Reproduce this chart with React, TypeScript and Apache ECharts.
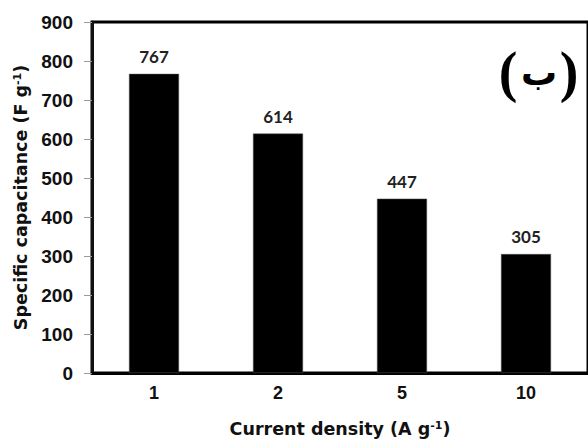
import React, { useEffect, useRef } from "react";
import * as echarts from "echarts";

const categories = ["1", "2", "5", "10"];
const capacitance = [767, 614, 447, 305];
const yTicks = { min: 0, max: 900, interval: 100 };
const panelOpen = "(";
const panelLetter = "ب";
const panelClose = ")";

const titleRich = {
  a: { fontFamily: "DejaVu Sans", fontSize: 17.5, color: "#111", fontWeight: "bold" },
  s: { fontFamily: "DejaVu Sans", fontSize: 11, color: "#111", fontWeight: "bold", verticalAlign: "top" },
};

export default function App() {
  const ref = useRef<HTMLDivElement>(null);
  useEffect(() => {
    document.body.style.margin = "0";
    if (!ref.current) return;
    const chart = echarts.init(ref.current, null, { renderer: "svg" });
    chart.setOption({
      animation: false,
      backgroundColor: "#ffffff",
      grid: {
        left: 92,
        top: 22,
        width: 504,
        height: 357,
        show: true,
        borderColor: "#000",
        borderWidth: 3,
        backgroundColor: "transparent",
      },
      xAxis: {
        type: "category",
        data: categories,
        boundaryGap: true,
        axisLine: { show: true, lineStyle: { color: "#000", width: 3 } },
        axisTick: { show: false },
        axisLabel: {
          color: "#111",
          fontFamily: "Liberation Sans, Arial",
          fontWeight: "bold",
          fontSize: 18,
          margin: 11,
        },
        name: "{a|Current density (A g}{s|-1}{a|)}",
        nameLocation: "middle",
        nameGap: 47,
        nameTextStyle: { rich: titleRich },
      },
      yAxis: {
        type: "value",
        min: yTicks.min,
        max: yTicks.max,
        interval: yTicks.interval,
        splitLine: { show: false },
        axisLine: { show: true, lineStyle: { color: "#111", width: 3 } },
        axisTick: { show: true, length: 8, lineStyle: { color: "#9a9a9a", width: 1 } },
        axisLabel: {
          color: "#111",
          fontFamily: "Liberation Sans, Arial",
          fontWeight: "bold",
          fontSize: 19,
          margin: 19,
        },
        name: "{a|Specific capacitance (F g}{s|-1}{a|)}",
        nameLocation: "middle",
        nameGap: 55,
        nameRotate: 90,
        nameTextStyle: { rich: titleRich },
      },
      series: [
        {
          type: "bar",
          data: capacitance,
          barWidth: 50,
          itemStyle: { color: "#000", borderColor: "#555", borderWidth: 0.5 },
          label: {
            show: true,
            position: "top",
            distance: 9,
            color: "#222",
            fontFamily: "Lato, Open Sans",
            fontWeight: "bold",
            fontSize: 17,
          },
        },
      ],
      graphic: [
        {
          type: "text",
          x: 508,
          y: 72,
          style: {
            text: panelOpen,
            font: "bold 56px 'Liberation Serif'",
            fill: "#000",
            textAlign: "center",
            textVerticalAlign: "middle",
          },
        },
        {
          type: "text",
          x: 539,
          y: 72,
          style: {
            text: panelLetter,
            font: "bold 36px 'DejaVu Sans'",
            fill: "#000",
            textAlign: "center",
            textVerticalAlign: "middle",
          },
        },
        {
          type: "text",
          x: 569,
          y: 72,
          style: {
            text: panelClose,
            font: "bold 56px 'Liberation Serif'",
            fill: "#000",
            textAlign: "center",
            textVerticalAlign: "middle",
          },
        },
      ],
    });
    return () => chart.dispose();
  }, []);
  return <div ref={ref} style={{ width: 588, height: 443 }} />;
}
